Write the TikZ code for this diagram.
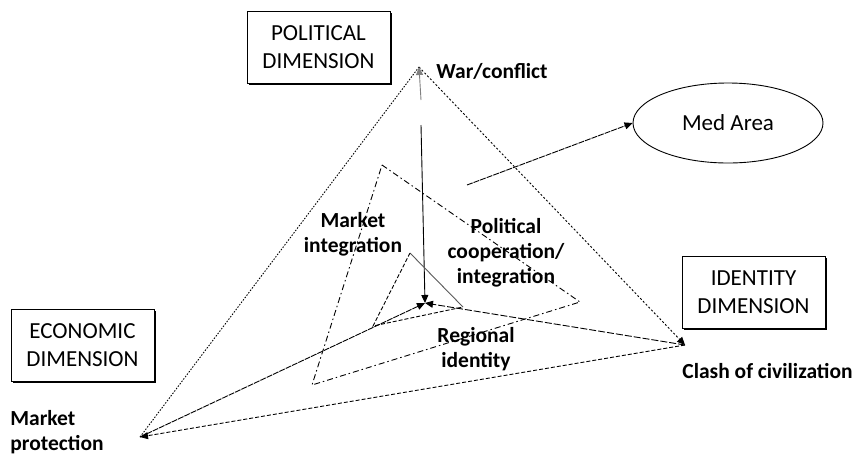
\documentclass[tikz,border=0pt]{standalone}
\usepackage{fontspec}
\setmainfont{Carlito}
\usetikzlibrary{shapes.geometric,arrows.meta,shadows}
\tikzset{
  dimbox/.style={draw, fill=white, minimum width=143pt, minimum height=72pt, align=center,
    font=\fontsize{23}{28}\selectfont,
    drop shadow={shadow xshift=1.5pt,shadow yshift=-1.5pt,fill=black,opacity=1}},
  lbl/.style={font=\fontsize{21.5}{25}\selectfont\bfseries, inner sep=0pt, align=center},
  tip/.style={-{Triangle[length=8pt,width=7pt]}}
}
\begin{document}
\begin{tikzpicture}[x=1pt,y=-1pt,line width=0.9pt]
\useasboundingbox (0,0) rectangle (854,456);
% corners of the triangle
\coordinate (W) at (419,67);
\coordinate (P) at (140,437);
\coordinate (C) at (685,345);
\coordinate (Z) at (425,303);
\coordinate (v1) at (421,100);
\coordinate (v2) at (421,125);
\coordinate (d1) at (382,165);
\coordinate (d2) at (580,302);
\coordinate (d3) at (312,385);
\coordinate (s1) at (410,253);
\coordinate (s2) at (463,307);
\coordinate (s3) at (373,326);
\coordinate (m0) at (467,185);
% boxes
\node[dimbox] (pol) at (318.5,47.5) {POLITICAL\\DIMENSION};
\node[dimbox] (eco) at (82.5,345) {ECONOMIC\\DIMENSION};
\node[dimbox] (ide) at (753.5,292.5) {IDENTITY\\DIMENSION};
\node[draw, ellipse, minimum width=190pt, minimum height=80pt, font=\fontsize{23}{28}\selectfont] (med) at (728,123) {Med Area};
% labels
\node[lbl, anchor=west] (war) at (436,71) {War/conflict};
\node[lbl, anchor=west] (clash) at (682,371) {Clash of civilization};
\node[lbl, anchor=west, align=left] (prot) at (10,432) {Market\\protection};
\node[lbl] (mint) at (353,234) {Market\\integration};
\node[lbl] (pcoop) at (506,253) {Political\\cooperation/\\integration};
\node[lbl] (reg) at (476,349) {Regional\\identity};
% outer triangle
\path[draw,dash pattern=on 1.5pt off 1.5pt] (P) -- (W);
\path[draw,tip,dash pattern=on 2pt off 2pt] (W) -- (C);
\path[draw,tip,dash pattern=on 4pt off 2pt] (C) -- (P);
% towards the centre
\path[draw,tip,dash pattern=on 6pt off 1pt] (P) -- (Z);
\path[draw,tip,dash pattern=on 7pt off 2pt] (C) -- (Z);
\path[draw,tip,gray] (v1) -- (W);
\path[draw,tip] (v2) -- (Z);
% inner triangles
\path[draw,dash pattern=on 6pt off 3pt on 1.5pt off 3pt] (d1) -- (d2) -- (d3) -- cycle;
\path[draw,gray!70!black] (s1) -- (s2);
\path[draw,dash pattern=on 4pt off 2pt] (s1) -- (s3) -- (s2);
% to the Med Area
\path[draw,tip,dash pattern=on 6pt off 1pt] (m0) -- (med.west);
\end{tikzpicture}
\end{document}
